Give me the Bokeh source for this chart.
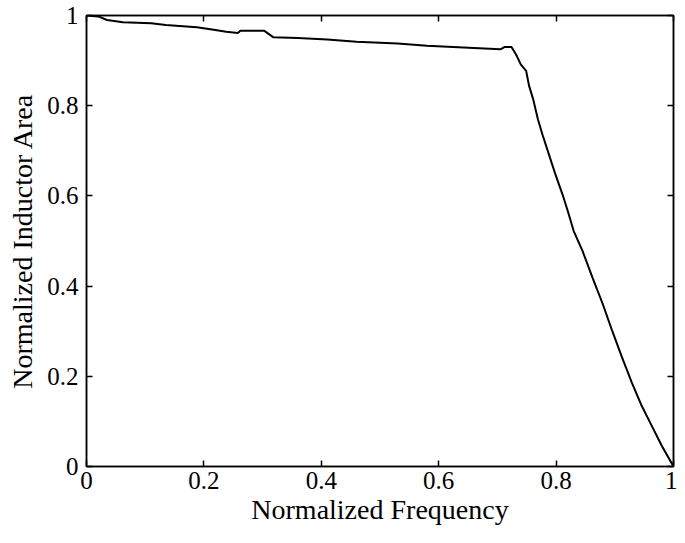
from bokeh.plotting import figure
from bokeh.models import Range1d, LinearAxis, FixedTicker
from bokeh.embed import file_html
from bokeh.resources import INLINE

# Data
freq = [0.0, 0.02, 0.035, 0.062, 0.11, 0.135, 0.188, 0.214, 0.238, 0.258, 0.262,
        0.303, 0.318, 0.36, 0.41, 0.46, 0.53, 0.58, 0.66, 0.705, 0.712, 0.724,
        0.732, 0.740, 0.749, 0.754, 0.761, 0.769, 0.777, 0.788, 0.799, 0.811,
        0.820, 0.830, 0.845, 0.862, 0.879, 0.895, 0.912, 0.929, 0.946, 0.963,
        0.980, 1.0]
area = [1.0, 0.998, 0.990, 0.985, 0.983, 0.979, 0.974, 0.969, 0.964, 0.961, 0.966,
        0.966, 0.952, 0.950, 0.947, 0.942, 0.938, 0.933, 0.928, 0.925, 0.930, 0.930,
        0.913, 0.891, 0.877, 0.844, 0.814, 0.770, 0.735, 0.691, 0.647, 0.603,
        0.566, 0.522, 0.478, 0.419, 0.362, 0.303, 0.243, 0.186, 0.134, 0.090,
        0.046, 0.0]

x_ticks = [0, 0.2, 0.4, 0.6, 0.8, 1]
x_tick_labels = ["0", "0.2", "0.4", "0.6", "0.8", "1"]
y_ticks = [0, 0.2, 0.4, 0.6, 0.8, 1]
y_tick_labels = ["0", "0.2", "0.4", "0.6", "0.8", "1"]

FONT = "Liberation Serif"

p = figure(width=677, height=527, output_backend="svg", toolbar_location=None,
           x_range=Range1d(0, 1), y_range=Range1d(0, 1),
           min_border_left=86, min_border_right=4, min_border_top=15, min_border_bottom=4)
p.grid.visible = False
p.background_fill_color = "white"
p.border_fill_color = "white"
p.outline_line_color = "black"
p.outline_line_width = 1.5

p.line(freq, area, line_color="black", line_width=2)

def style_axis(ax, ticks, labels, show_labels=True):
    ax.ticker = FixedTicker(ticks=ticks)
    ax.minor_tick_line_color = None
    ax.major_tick_in = 6
    ax.major_tick_out = 0
    ax.major_tick_line_width = 1.5
    ax.major_tick_line_color = "black"
    ax.axis_line_color = "black"
    ax.axis_line_width = 1.5
    ax.major_label_text_font = FONT
    ax.major_label_text_color = "black"
    if show_labels:
        ax.major_label_overrides = {t: l for t, l in zip(ticks, labels)}
        ax.major_label_text_font_size = "25px"
    else:
        ax.major_label_overrides = {t: "" for t in ticks}
        ax.major_label_text_font_size = "1px"
        ax.major_label_standoff = 0

xa = p.xaxis[0]
ya = p.yaxis[0]
style_axis(xa, x_ticks, x_tick_labels)
style_axis(ya, y_ticks, y_tick_labels)
xa.major_label_standoff = 5
ya.major_label_standoff = 8
xa.axis_label = "Normalized Frequency"
ya.axis_label = "Normalized Inductor Area"
for ax in (xa, ya):
    ax.axis_label_text_font = FONT
    ax.axis_label_text_font_size = "28px"
    ax.axis_label_text_font_style = "normal"
    ax.axis_label_text_color = "black"
xa.axis_label_standoff = 2
ya.axis_label_standoff = 6

top = LinearAxis()
right = LinearAxis()
style_axis(top, x_ticks, x_tick_labels, show_labels=False)
style_axis(right, y_ticks, y_tick_labels, show_labels=False)
p.add_layout(top, "above")
p.add_layout(right, "right")

open("out.html", "w").write(file_html(p, INLINE))
